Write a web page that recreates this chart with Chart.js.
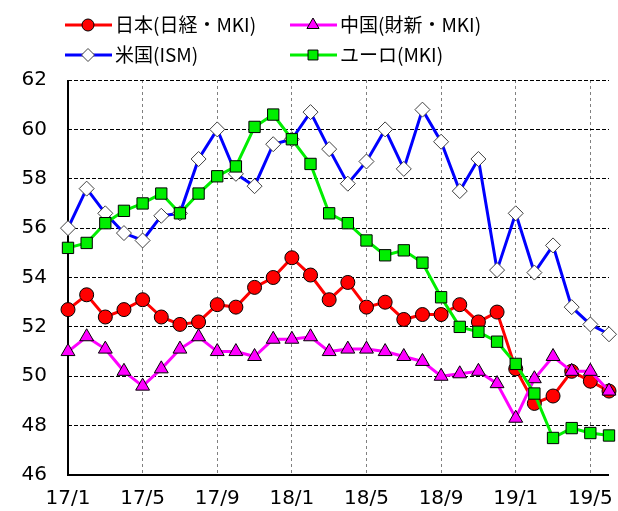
<!DOCTYPE html>
<html>
<head>
<meta charset="utf-8">
<script src="https://cdn.jsdelivr.net/npm/chart.js@4"></script>
<style>
  html, body { margin: 0; padding: 0; background: #fff; }
  #wrap { width: 618px; height: 511px; }
</style>
</head>
<body>
<div id="wrap"><canvas id="pmiChart" width="618" height="511"></canvas></div>
<script>
// months 17/1 .. 19/6
const months = [
  '17/1','17/2','17/3','17/4','17/5','17/6','17/7','17/8','17/9','17/10','17/11','17/12',
  '18/1','18/2','18/3','18/4','18/5','18/6','18/7','18/8','18/9','18/10','18/11','18/12',
  '19/1','19/2','19/3','19/4','19/5','19/6'
];
const yTicks = [46, 48, 50, 52, 54, 56, 58, 60, 62];

const japanData = [52.7, 53.3, 52.4, 52.7, 53.1, 52.4, 52.1, 52.2, 52.9, 52.8, 53.6, 54.0,
  54.8, 54.1, 53.1, 53.8, 52.8, 53.0, 52.3, 52.5, 52.5, 52.9, 52.2, 52.6,
  50.3, 48.9, 49.2, 50.2, 49.8, 49.4];
const chinaData = [51.0, 51.6, 51.1, 50.2, 49.6, 50.3, 51.1, 51.6, 51.0, 51.0, 50.8, 51.5,
  51.5, 51.6, 51.0, 51.1, 51.1, 51.0, 50.8, 50.6, 50.0, 50.1, 50.2, 49.7,
  48.3, 49.9, 50.8, 50.2, 50.2, 49.4];
const usData = [56.0, 57.6, 56.6, 55.8, 55.5, 56.5, 56.6, 58.8, 60.0, 58.2, 57.7, 59.4,
  59.6, 60.7, 59.2, 57.8, 58.7, 60.0, 58.4, 60.8, 59.5, 57.5, 58.8, 54.3,
  56.6, 54.2, 55.3, 52.8, 52.1, 51.7];
const euroData = [55.2, 55.4, 56.2, 56.7, 57.0, 57.4, 56.6, 57.4, 58.1, 58.5, 60.1, 60.6,
  59.6, 58.6, 56.6, 56.2, 55.5, 54.9, 55.1, 54.6, 53.2, 52.0, 51.8, 51.4,
  50.5, 49.3, 47.5, 47.9, 47.7, 47.6];

const seriesNames = ['日本(日経・MKI)', '中国(財新・MKI)', '米国(ISM)', 'ユーロ(MKI)'];

const tickFont = { family: 'DejaVu Sans', size: 20 };

// two-column legend at top
const legendPlugin = {
  id: 'twoColLegend',
  afterDraw(chart) {
    const ctx = chart.ctx;
    const slots = [[65, 25], [290, 25], [65, 55], [290, 55]];
    chart.data.datasets.forEach((ds, i) => {
      const [x, y] = slots[i];
      ctx.save();
      ctx.strokeStyle = ds.borderColor;
      ctx.lineWidth = 3;
      ctx.beginPath();
      ctx.moveTo(x, y);
      ctx.lineTo(x + 47, y);
      ctx.stroke();
      ctx.fillStyle = ds.pointBackgroundColor;
      ctx.strokeStyle = ds.pointBorderColor;
      ctx.lineWidth = 1;
      Chart.helpers.drawPoint(ctx, { pointStyle: ds.pointStyle, radius: ds.pointRadius - 1, borderWidth: 1, rotation: 0 }, x + 23, y);
      ctx.fillStyle = '#000';
      ctx.font = '19px "Noto Sans CJK JP"';
      ctx.textBaseline = 'middle';
      ctx.fillText(ds.label, x + 50, y);
      ctx.restore();
    });
  }
};

const ctx = document.getElementById('pmiChart');

new Chart(ctx, {
  type: 'line',
  data: {
    labels: months,
    datasets: [
      {
        label: seriesNames[0],
        data: japanData,
        borderColor: '#ff0000',
        pointBackgroundColor: '#ff0000',
        pointBorderColor: '#000',
        pointStyle: 'circle',
        pointRadius: 7,
        order: 2,
      },
      {
        label: seriesNames[1],
        data: chinaData,
        borderColor: '#ff00ff',
        pointBackgroundColor: '#ff00ff',
        pointBorderColor: '#000',
        pointStyle: 'triangle',
        pointRadius: 8,
        order: 1,
      },
      {
        label: seriesNames[2],
        data: usData,
        borderColor: '#0000ff',
        pointBackgroundColor: '#ffffff',
        pointBorderColor: '#404040',
        pointStyle: 'rectRot',
        pointRadius: 7.5,
        order: 3,
      },
      {
        label: seriesNames[3],
        data: euroData,
        borderColor: '#00ee00',
        pointBackgroundColor: '#00ee00',
        pointBorderColor: '#000',
        pointStyle: 'rect',
        pointRadius: 8,
        order: 0,
      },
    ],
  },
  options: {
    responsive: false,
    animation: false,
    layout: { padding: { top: 80, right: 1, left: 0, bottom: 0 } },
    elements: {
      line: { borderWidth: 3, tension: 0 },
      point: { borderWidth: 1, hoverRadius: 7 },
    },
    datasets: { line: { clip: false } },
    plugins: {
      legend: { display: false },
      tooltip: { enabled: false },
    },
    scales: {
      x: {
        type: 'category',
        offset: false,
        afterFit: (s) => {
          s.height = 36;
          s.paddingLeft = 0;
          s.paddingRight = 0;
        },
        grid: {
          color: (c) => (c.index % 4 === 0 ? '#808080' : 'rgba(0,0,0,0)'),
          drawTicks: false,
        },
        border: { display: false, dash: [3, 3] },
        ticks: {
          autoSkip: false,
          maxRotation: 0,
          padding: 12,
          color: '#000',
          font: tickFont,
          callback: function (value, index) {
            return index % 4 === 0 ? months[index] : '';
          },
        },
      },
      y: {
        min: 46,
        max: 62,
        afterFit: (s) => { s.width = 68; },
        afterBuildTicks: (s) => { s.ticks = yTicks.map((v) => ({ value: v })); },
        grid: { color: '#000', drawTicks: false },
        border: { display: false, dash: [4, 2] },
        ticks: {
          padding: 21,
          color: '#000',
          font: tickFont,
        },
      },
    },
  },
  plugins: [
    legendPlugin,
    {
      id: 'axisLines',
      beforeDatasetsDraw(chart) {
        const a = chart.chartArea;
        const c = chart.ctx;
        c.save();
        c.strokeStyle = '#000';
        c.lineWidth = 2;
        c.beginPath();
        c.moveTo(a.left, a.top);
        c.lineTo(a.left, a.bottom);
        c.lineTo(a.right, a.bottom);
        c.stroke();
        c.restore();
      },
    },
  ],
});
</script>
</body>
</html>
